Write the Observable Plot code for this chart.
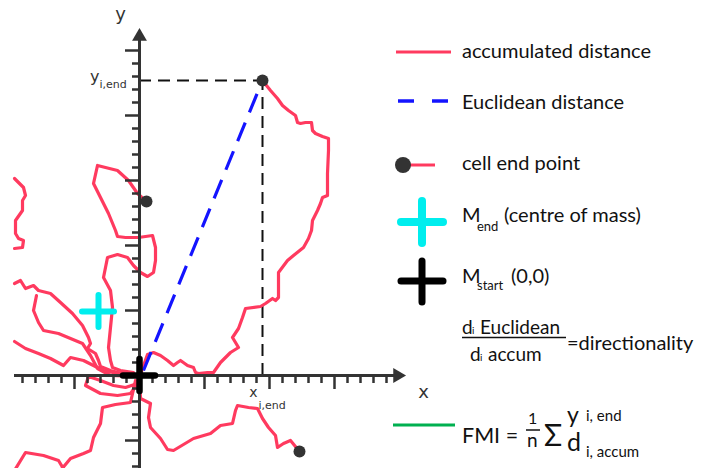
<!DOCTYPE html>
<html><head><meta charset="utf-8">
<script src="https://cdn.jsdelivr.net/npm/d3@7"></script>
<script src="https://cdn.jsdelivr.net/npm/@observablehq/plot@0.6"></script>
<style>
html,body{margin:0;padding:0;background:#fff;}
#wrap{position:relative;width:704px;height:468px;overflow:hidden;background:#fff;}
#wrap > svg{position:absolute;left:0;top:0;}
#legend{position:absolute;left:0;top:0;pointer-events:none;}
#legend text{font-family:Lato,"Noto Sans",sans-serif;fill:#111;}
</style></head><body>
<div id="wrap"></div>
<script>
// ---- data (units: µm, origin = start point) ----
const track1 = [[1,1],[4,10],[8,21],[14,23],[21,20],[28,15],[34,10],[38,13],[41,15],[48,10],[54,8],[56,3],[59,2],[68,3],[74,3],[81,13],[86,18],[91,23],[99,28],[93,38],[99,47],[103,58],[106,67],[121,69],[126,72],[133,77],[136,75],[139,78],[139,103],[148,115],[154,120],[164,128],[169,137],[172,145],[173,155],[178,165],[181,172],[183,178],[188,180],[188,202],[189,225],[189,237],[183,239],[176,242],[173,245],[172,253],[166,253],[161,252],[158,253],[156,260],[149,265],[143,270],[138,277],[131,285],[123,295]];
const track2 = [[-6,3],[-19,5],[-27,8],[-29,15],[-31,28],[-29,48],[-27,68],[-29,85],[-36,98],[-32,118],[-22,121],[-12,118],[-6,110],[1,103],[8,99],[14,103],[16,115],[16,128],[13,140],[-1,138],[-14,138],[-22,139],[-24,145],[-31,162],[-39,178],[-46,192],[-42,210],[-22,205],[-11,195],[-2,182],[7,174]];
const track3 = [[0,-3],[1,-23],[11,-28],[9,-42],[11,-52],[21,-63],[28,-74],[34,-75],[54,-63],[71,-58],[81,-50],[93,-48],[96,-35],[98,-30],[109,-32],[118,-33],[123,-43],[129,-52],[136,-60],[138,-72],[144,-68],[151,-65],[160,-76]];
const track4 = [[-4,-5],[-9,-27],[-24,-29],[-37,-32],[-39,-48],[-46,-62],[-49,-75],[-56,-78],[-69,-83],[-79,-95]];
const track5 = [[-125,-95],[-114,-77],[-96,-80],[-81,-85],[-75,-95]];
const track6 = [[-125,197],[-116,188],[-114,180],[-117,175],[-117,165],[-124,155],[-124,142],[-121,137],[-116,135],[-117,128],[-125,127]];
const track7 = [[-1,1],[-14,1],[-29,5],[-39,9],[-41,15],[-44,22],[-52,27],[-49,32],[-51,38],[-57,50],[-67,62],[-79,73],[-89,82],[-101,85],[-106,90],[-114,87],[-119,95],[-125,92]];
const track8 = [[-3,-1],[-29,0],[-42,7],[-49,20],[-57,32],[-69,37],[-81,42],[-96,45],[-101,53],[-106,65],[-103,80]];
const track9 = [[-125,34],[-114,27],[-101,22],[-89,17],[-76,10],[-69,18],[-56,15],[-46,10],[-36,5],[-22,2],[-9,1],[0,0]];
const track10 = [[-1,-7],[-9,-18],[-22,-20],[-39,-18],[-54,-10],[-51,-1],[-39,-5],[-26,-10],[-14,-12],[-2,-8]];
const trackNames = ["t1","t2","t3","t4","t5","t6","t7","t8","t9","t10"];
const trackPoints = [track1,track2,track3,track4,track5,track6,track7,track8,track9,track10];

const endX = [123, 7, 160];          // cell end points
const endY = [295, 174, -76];
const focusEnd = {x: 123, y: 295};   // x_i,end / y_i,end
const massEnd = {x: -41, y: 64};     // centre of mass at end
const massStart = {x: 0, y: 0};      // start
const tickStep = 13;
const xTickRange = [-9, 19];
const yTickRange = [-7, 25];
const xAxisExtent = [-125, 258];
const yAxisExtent = [-93, 339];

// ---- build tables ----
const rows = trackNames.flatMap((id, i) => trackPoints[i].map(([x, y]) => ({track: id, x, y})));
const ends = endX.map((x, i) => ({x, y: endY[i]}));
const xTicks = d3.range(xTickRange[0], xTickRange[1] + 1).filter(k => k !== 0).map(k => ({v: k * tickStep, major: k % 5 === 0}));
const yTicks = d3.range(yTickRange[0], yTickRange[1] + 1).filter(k => k !== 0).map(k => ({v: k * tickStep, major: k % 5 === 0}));

const RED = "#ff3a5f";
const AX = "#333";
const labelFont = "DejaVu Sans, sans-serif";
const arm = 16;

const chart = Plot.plot({
  width: 704, height: 468,
  marginTop: 0, marginRight: 0, marginBottom: 0, marginLeft: 0,
  x: {domain: [-139, 565], axis: null},
  y: {domain: [-93, 375], axis: null},
  style: {background: "transparent", overflow: "hidden"},
  marks: [
    Plot.ruleY([focusEnd], {y: "y", x1: 0, x2: "x", stroke: "#111", strokeWidth: 2, strokeDasharray: "12,7"}),
    Plot.ruleX([focusEnd], {x: "x", y1: 0, y2: "y", stroke: "#111", strokeWidth: 2, strokeDasharray: "12,7"}),
    Plot.line(rows, {x: "x", y: "y", z: "track", stroke: RED, strokeWidth: 3.2, strokeLinejoin: "round", strokeLinecap: "round", clip: true}),
    Plot.ruleY([0], {x1: xAxisExtent[0], x2: xAxisExtent[1], stroke: AX, strokeWidth: 3}),
    Plot.ruleX([0], {y1: yAxisExtent[0], y2: yAxisExtent[1], stroke: AX, strokeWidth: 3}),
    Plot.ruleX(xTicks, {x: "v", y1: 0, y2: d => d.major ? -14 : -8, stroke: AX, strokeWidth: 2.5}),
    Plot.ruleY(yTicks, {y: "v", x1: d => d.major ? -14 : -7, x2: 0, stroke: AX, strokeWidth: 2.5}),
    Plot.dot([{x: xAxisExtent[1], y: 0, r: 90}], {x: "x", y: "y", symbol: "triangle", r: 5.5, rotate: "r", fill: AX}),
    Plot.dot([{x: 0, y: yAxisExtent[1], r: 0}], {x: "x", y: "y", symbol: "triangle", r: 5.5, rotate: "r", fill: AX}),
    Plot.link([{from: [4, 5], to: [focusEnd.x, focusEnd.y]}], {x1: d => d.from[0], y1: d => d.from[1], x2: d => d.to[0], y2: d => d.to[1], stroke: "#1414ff", strokeWidth: 3.2, strokeDasharray: "20,11"}),
    Plot.ruleY([massEnd], {y: "y", x1: d => d.x - arm, x2: d => d.x + arm, stroke: "#00eeee", strokeWidth: 6, strokeLinecap: "round"}),
    Plot.ruleX([massEnd], {x: "x", y1: d => d.y - arm, y2: d => d.y + arm, stroke: "#00eeee", strokeWidth: 6, strokeLinecap: "round"}),
    Plot.ruleY([massStart], {y: "y", x1: d => d.x - arm, x2: d => d.x + arm, stroke: "#000", strokeWidth: 6.5, strokeLinecap: "round"}),
    Plot.ruleX([massStart], {x: "x", y1: d => d.y - arm, y2: d => d.y + arm, stroke: "#000", strokeWidth: 6.5, strokeLinecap: "round"}),
    Plot.dot(ends, {x: "x", y: "y", r: 6, fill: "#333"}),
    Plot.text(["y"], {x: -19, y: 361, text: d => d, fontSize: 18, fill: AX, fontFamily: labelFont}),
    Plot.text(["x"], {x: 284, y: -17, text: d => d, fontSize: 18, fill: AX, fontFamily: labelFont}),
    Plot.text(["y"], {x: -40, y: 299, text: d => d, fontSize: 16, textAnchor: "end", fill: AX, fontFamily: labelFont}),
    Plot.text(["i,end"], {x: -40, y: 291, text: d => d, fontSize: 11, textAnchor: "start", fill: AX, fontFamily: labelFont}),
    Plot.text(["x"], {x: 118, y: -17, text: d => d, fontSize: 14, textAnchor: "end", fill: AX, fontFamily: labelFont}),
    Plot.text(["i,end"], {x: 119, y: -30, text: d => d, fontSize: 11, textAnchor: "start", fill: AX, fontFamily: labelFont})
  ]
});
document.getElementById("wrap").appendChild(chart);

// ---- legend ----
const legend = `
<svg id="legend" width="704" height="468" xmlns="http://www.w3.org/2000/svg">
  <line x1="396" y1="52" x2="451" y2="52" stroke="${RED}" stroke-width="3"/>
  <text x="462" y="58" font-size="20">accumulated distance</text>
  <line x1="398" y1="101" x2="452" y2="101" stroke="#1414ff" stroke-width="3.5" stroke-dasharray="16,18"/>
  <text x="462" y="109" font-size="20">Euclidean distance</text>
  <line x1="405" y1="165" x2="435" y2="165" stroke="${RED}" stroke-width="3"/>
  <circle cx="403" cy="165" r="8" fill="#333"/>
  <text x="462" y="170" font-size="20">cell end point</text>
  <line x1="401" y1="222" x2="443" y2="222" stroke="#00eeee" stroke-width="8" stroke-linecap="round"/>
  <line x1="422" y1="201" x2="422" y2="243" stroke="#00eeee" stroke-width="8" stroke-linecap="round"/>
  <text x="462" y="222" font-size="20">M</text>
  <text x="477" y="231" font-size="13">end</text>
  <text x="504" y="222" font-size="20">(centre of mass)</text>
  <line x1="401" y1="281" x2="443" y2="281" stroke="#000" stroke-width="7" stroke-linecap="round"/>
  <line x1="422" y1="261" x2="422" y2="302" stroke="#000" stroke-width="7" stroke-linecap="round"/>
  <text x="462" y="283" font-size="20">M</text>
  <text x="477" y="290" font-size="13">start</text>
  <text x="511" y="283" font-size="20">(0,0)</text>
  <text x="462" y="334" font-size="19">d</text>
  <text x="472" y="334" font-size="10">i</text>
  <text x="480" y="334" font-size="19">Euclidean</text>
  <line x1="462" y1="337.5" x2="566" y2="337.5" stroke="#111" stroke-width="1.5"/>
  <text x="470" y="361" font-size="19">d</text>
  <text x="480" y="361" font-size="10">i</text>
  <text x="488" y="361" font-size="19">accum</text>
  <text x="567" y="350" font-size="20">=directionality</text>
  <line x1="393" y1="425" x2="455" y2="425" stroke="#00b050" stroke-width="3"/>
  <text x="462" y="443" font-size="21.5">FMI =</text>
  <text x="528" y="424" font-size="16">1</text>
  <line x1="526" y1="430" x2="540" y2="430" stroke="#111" stroke-width="1.5"/>
  <text x="527" y="446.5" font-size="19">n</text>
  <text x="544" y="446" font-size="30">&#931;</text>
  <text x="567" y="423" font-size="23">y</text>
  <text x="586" y="421" font-size="15">i, end</text>
  <text x="567" y="451" font-size="25">d</text>
  <text x="586" y="457" font-size="15">i, accum</text>
</svg>`;
document.getElementById("wrap").insertAdjacentHTML("beforeend", legend);
</script>
</body></html>
